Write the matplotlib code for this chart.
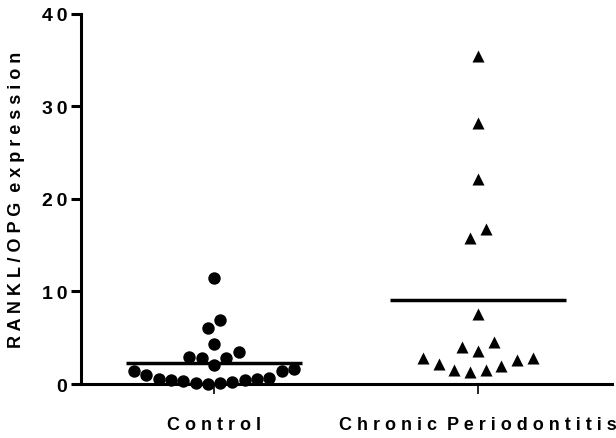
import numpy as np
import matplotlib.pyplot as plt

# ----------------------------
# Data
# ----------------------------
groups = ["Control", "Chronic Periodontitis"]
control = [11.5, 6.9, 6.1, 4.3, 3.5, 2.9, 2.8, 2.8, 2.0, 1.4, 1.6, 1.4,
           1.0, 0.5, 0.4, 0.3, 0.1, 0.0, 0.1, 0.2, 0.4, 0.5, 0.6]
chronic = [35.4, 28.2, 22.2, 16.8, 15.8, 7.6, 4.5, 4.05, 3.6, 2.8, 2.8,
           2.6, 2.15, 1.9, 1.55, 1.55, 1.26]
yticks = [0, 10, 20, 30, 40]


def spaced(s, gap=" "):
    # letter-spaced look of the original
    words = s.split(" ")
    return (gap * 2).join(gap.join(w) for w in words)


def row_swarm(values, center, step, tol=1.7):
    # Prism-like scatter: group close values into rows, spread each row,
    # lowest values in the middle of the row
    values = np.asarray(values, dtype=float)
    order = np.argsort(values, kind='stable')
    xs = np.zeros(len(values))
    rows, cur = [], [order[0]]
    for i in order[1:]:
        if values[i] - values[cur[0]] <= tol:
            cur.append(i)
        else:
            rows.append(cur)
            cur = [i]
    rows.append(cur)
    for r in rows:
        n = len(r)
        slots = np.arange(n) - (n - 1) / 2
        slots = sorted(slots, key=lambda p: (abs(p), p))
        for idx, p in zip(r, slots):
            xs[idx] = center + p * step
    return xs


plt.rcParams['font.family'] = ['Liberation Sans', 'DejaVu Sans']
plt.rcParams['font.weight'] = 'bold'

fig = plt.figure(figsize=(6.16, 4.39), dpi=100)
ax = fig.add_axes([0.1315, 0.123, 0.862, 0.843])
ax.set_xlim(-0.504, 1.508)
ax.set_ylim(0, 40)

for sp in ['top', 'right']:
    ax.spines[sp].set_visible(False)
for sp in ['left', 'bottom']:
    ax.spines[sp].set_linewidth(2.2)

xc = row_swarm(control, 0, 0.0466)
xp = row_swarm(chronic, 1, 0.0595)
ax.scatter(xc, control, s=80, marker='o', color='black', clip_on=False, zorder=3, linewidths=0)
ax.scatter(xp, chronic, s=75, marker='^', color='black', clip_on=False, zorder=3, linewidths=0)

for i, vals in enumerate([control, chronic]):
    ax.hlines(np.mean(vals), i - 0.335, i + 0.335, color='black', lw=2.5, zorder=2)

ax.set_yticks(yticks)
ax.set_yticklabels([spaced(str(t), "\u2009") for t in yticks], fontsize=14, fontweight='bold')
ax.set_xticks([0, 1])
ax.set_xticklabels([spaced(g) for g in groups], fontsize=13, fontweight='bold')
ax.tick_params(axis='y', length=7, width=2.2, pad=3)
ax.tick_params(axis='x', length=7, width=1.2, pad=16)

ax.set_ylabel(spaced("RANKL/OPG expression"), fontsize=13, fontweight='bold', labelpad=12)

plt.savefig("out.png", dpi=100)
